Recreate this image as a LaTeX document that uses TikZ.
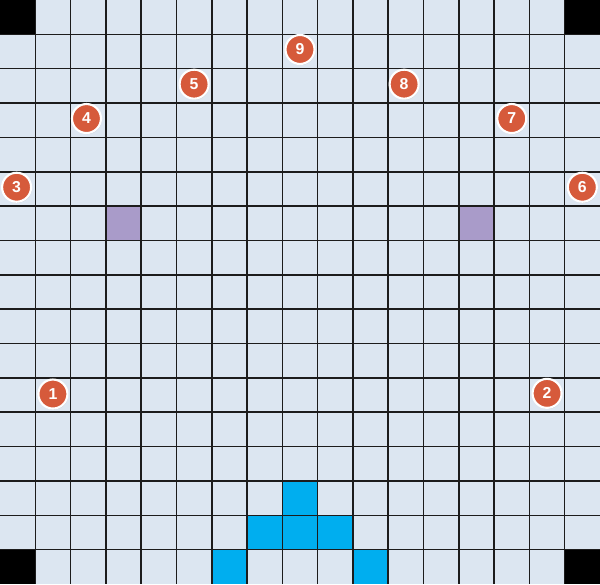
\documentclass[tikz,border=0pt]{standalone}
\usepackage{fontspec}
\setmainfont{Liberation Sans}
\usetikzlibrary{shadows}
\definecolor{cellfill}{HTML}{DCE6F1}
\definecolor{markfill}{HTML}{A99BC9}
\definecolor{tilefill}{HTML}{00AEEF}
\definecolor{pinfill}{HTML}{D65A3B}
\definecolor{gridcol}{HTML}{1C1C1C}

\begin{document}
\begin{tikzpicture}[
		x = 0.70588cm,
		y = -0.68706cm,
		gridline/.style = {draw=gridcol, line width=0.85pt},
		pin/.style = {circle, fill=pinfill, draw=white, line width=1.2pt,
			minimum size=0.58cm, inner sep=0pt, text=white,
			font=\fontsize{9}{9}\selectfont\bfseries,
			drop shadow={opacity=0.3, shadow xshift=0.4pt, shadow yshift=-0.6pt}}
		]
		\useasboundingbox (0,0) rectangle (17,17);
		\fill[cellfill] (0,0) rectangle (17,17);
		\foreach \c/\r in {0/0,16/0,0/16,16/16}
			\fill[black] (\c,\r) rectangle ++(1,1);
		\foreach \c/\r in {3/6,13/6}
			\fill[markfill] (\c,\r) rectangle ++(1,1);
		\foreach \c/\r in {8/14,7/15,8/15,9/15,6/16,10/16}
			\fill[tilefill] (\c,\r) rectangle ++(1,1);
		\foreach \k in {1,...,16} {
			\draw[gridline] (\k,0) -- (\k,17);
			\draw[gridline] (0,\k) -- (17,\k);
		}
		\node[pin] (P1) at (1.5,11.47) {1};
		\node[pin] (P2) at (15.5,11.45) {2};
		\node[pin] (P3) at (0.47,5.45) {3};
		\node[pin] (P4) at (2.45,3.45) {4};
		\node[pin] (P5) at (5.5,2.45) {5};
		\node[pin] (P6) at (16.5,5.45) {6};
		\node[pin] (P7) at (14.5,3.45) {7};
		\node[pin] (P8) at (11.45,2.45) {8};
		\node[pin] (P9) at (8.5,1.44) {9};
	\end{tikzpicture}
\end{document}
